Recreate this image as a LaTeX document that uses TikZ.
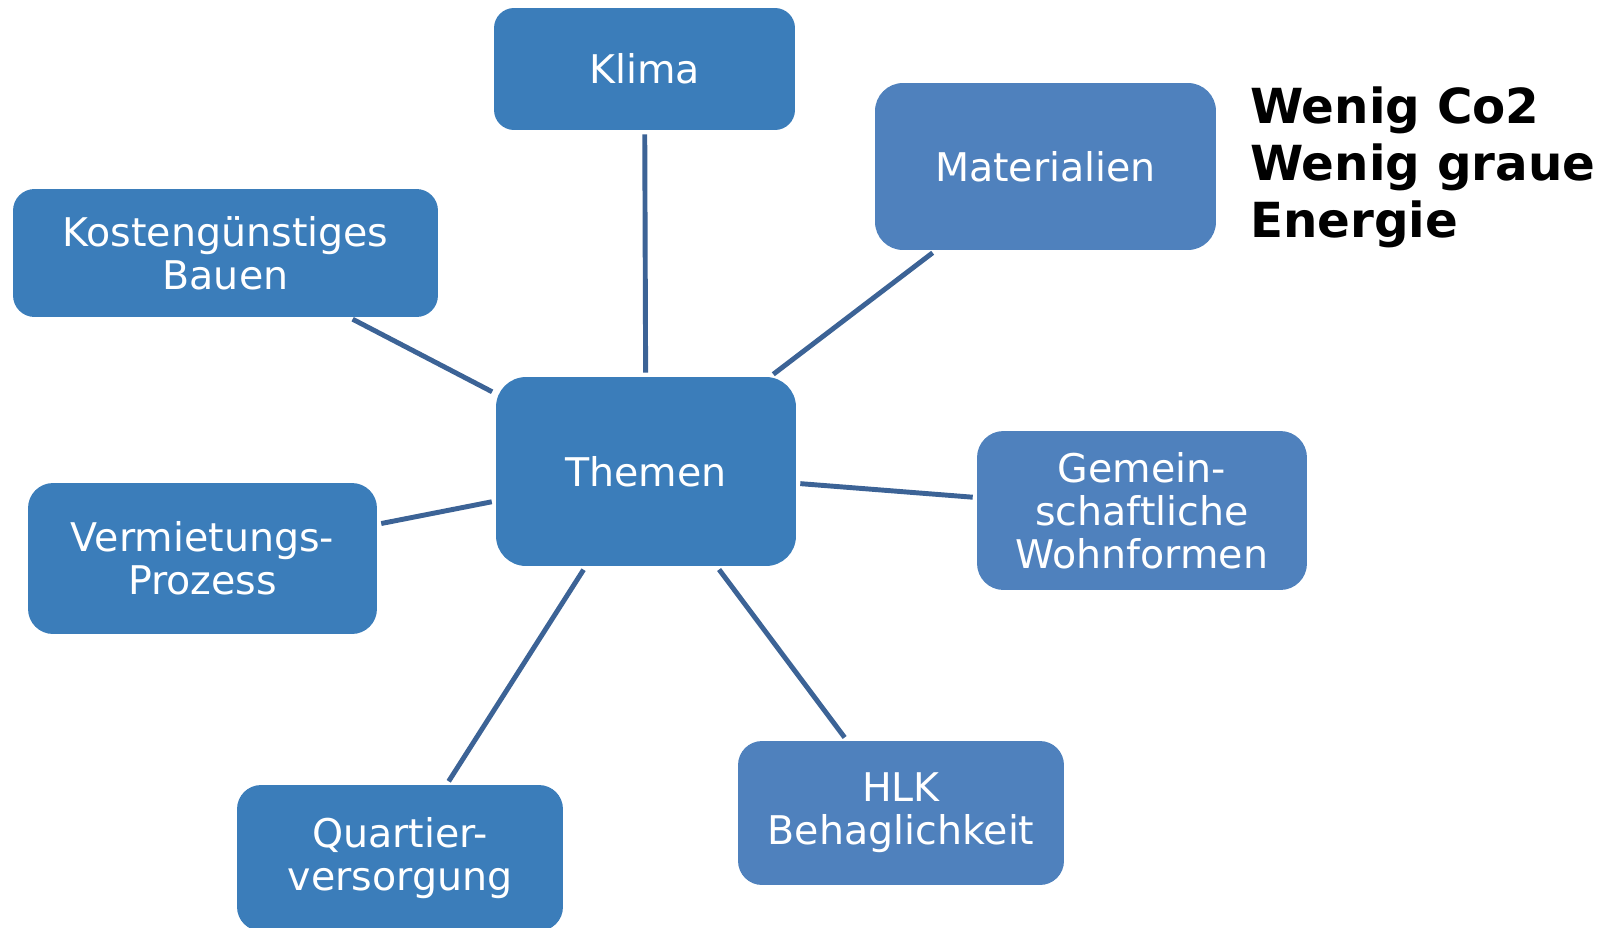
\documentclass[tikz,border=0pt]{standalone}
\usepackage{fontspec}
\setmainfont{DejaVu Sans}
\usepackage{tikz}

\definecolor{boxdark}{HTML}{3B7DBA}
\definecolor{boxlight}{HTML}{4F81BD}
\definecolor{linkblue}{HTML}{3C6396}

\begin{document}
\begin{tikzpicture}[x=0.02cm,y=-0.02cm,
		topic/.style={rectangle,fill=boxdark,text=white,inner sep=0pt,align=center,
			font=\fontsize{22.5}{24.5}\selectfont},
		link/.style={draw=linkblue,line width=2.8pt,shorten <=0.08cm,shorten >=0.08cm}]
		\useasboundingbox (0,0) rectangle (1603,927);
		% centre
		\node[topic,rounded corners=0.6cm,minimum width=6cm,minimum height=3.78cm] (themen) at (646,471.5) {Themen};
		% topics around it
		\node[topic,rounded corners=0.4cm,minimum width=6.02cm,minimum height=2.44cm] (klima) at (644.5,69) {Klima};
		\node[topic,fill=boxlight,rounded corners=0.56cm,minimum width=6.82cm,minimum height=3.34cm] (material) at (1045.5,166.5) {Materialien};
		\node[topic,rounded corners=0.43cm,minimum width=8.5cm,minimum height=2.56cm] (kosten) at (225.5,253) {Kostengünstiges\\Bauen};
		\node[topic,fill=boxlight,rounded corners=0.53cm,minimum width=6.6cm,minimum height=3.18cm] (wohnen) at (1142,510.5) {Gemein-\\schaftliche\\Wohnformen};
		\node[topic,rounded corners=0.5cm,minimum width=6.98cm,minimum height=3.02cm] (vermietung) at (202.5,558.5) {Vermietungs-\\Prozess};
		\node[topic,fill=boxlight,rounded corners=0.48cm,minimum width=6.52cm,minimum height=2.88cm] (hlk) at (901,813) {HLK\\Behaglichkeit};
		\node[topic,rounded corners=0.48cm,minimum width=6.52cm,minimum height=2.92cm] (quartier) at (400,858) {Quartier-\\versorgung};
		% spokes
		\foreach \t in {klima,material,kosten,wohnen,vermietung,hlk,quartier} {
			\draw[link] (themen) -- (\t);
		}
		% note
		\node[anchor=north west,align=left,inner sep=0pt,font=\fontsize{27.5}{32.3}\selectfont\bfseries] (note) at (1250,86.6) {Wenig Co2\\Wenig graue\\Energie};
\end{tikzpicture}
\end{document}
